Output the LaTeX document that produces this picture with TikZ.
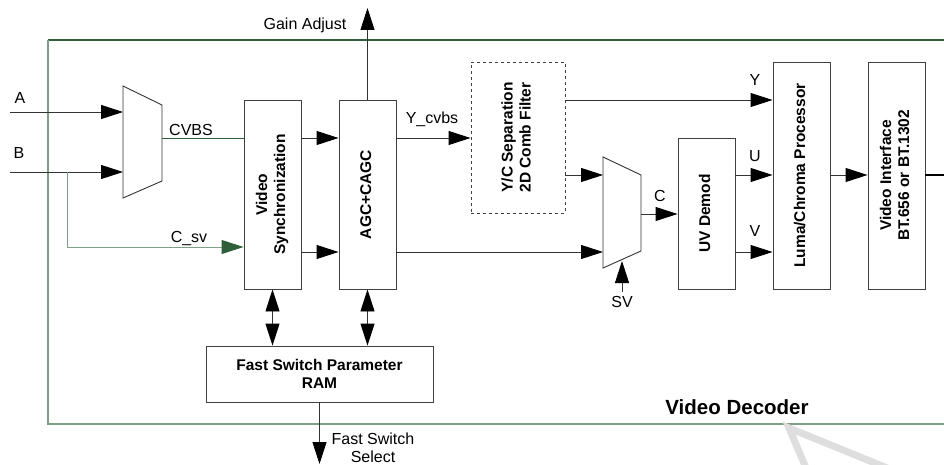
\documentclass[tikz,border=0pt]{standalone}
\usepackage{fontspec}
\setmainfont{Liberation Sans}
\usetikzlibrary{arrows.meta}

\definecolor{framegreen}{HTML}{2F5E3A}
\definecolor{framegray}{HTML}{7E9E86}

% rotated text for the upright blocks
\newcommand{\vlab}[1]{\rotatebox{90}{\begin{tabular}{@{}c@{}}#1\end{tabular}}}

\tikzset{
    blk/.style={draw=black!75, line width=0.9pt, minimum width=57pt, inner sep=0pt,
        font=\fontsize{15.5}{18}\selectfont\bfseries},
    sig/.style={font=\fontsize{16}{18}\selectfont, inner sep=0pt},
    wire/.style={draw=black!80, line width=0.9pt},
    >={Triangle[length=22pt,width=14pt,color=black]}
}

\begin{document}
\begin{tikzpicture}[x=1pt, y=-1pt]
    \useasboundingbox (0,0) rectangle (944,465);

    % Frame
    \draw[framegreen, line width=1.2pt] (48,40) -- (950,40);
    \draw[framegray, line width=1.4pt] (950,424) -- (48,424) -- (48,40);
    \node[font=\fontsize{20.5}{22}\selectfont\bfseries, inner sep=0pt] (dec) at (737,407) {Video Decoder};

    % Input mux
    \draw[wire] (123,86) -- (162,105) -- (162,181) -- (123,198) -- cycle;
    \coordinate (inA) at (10,112);
    \coordinate (inB) at (10,172);
    \coordinate (muxA) at (123,112);
    \coordinate (muxB) at (123,172);
    \coordinate (muxout) at (162,138);
    \coordinate (split) at (67,172);
    \coordinate (bend) at (67,247);

    % Blocks
    \node[blk, minimum height=189pt] (sync) at (272.5,194.5) {\vlab{Video\\Synchronization}};
    \node[blk, minimum height=189pt] (agc) at (367.5,194.5) {\vlab{AGC+CAGC}};
    \node[blk, dashed, minimum width=94pt, minimum height=151pt] (comb) at (518,137.5) {\vlab{Y/C Separation\\2D Comb Filter}};
    \node[blk, minimum height=151pt] (uvd) at (706.5,213.5) {\vlab{UV Demod}};
    \node[blk, minimum height=227pt] (luma) at (801.5,175.5) {\vlab{Luma/Chroma Processor}};
    \node[blk, minimum height=227pt] (vif) at (896.5,175.5) {\vlab{Video Interface\\BT.656 or BT.1302}};
    \node[blk, minimum width=227pt, minimum height=56pt, align=center] (ram) at (319.5,374) {Fast Switch Parameter\\RAM};

    % Chroma mux
    \draw[wire] (603,157) -- (641,175) -- (641,251) -- (603,268) -- cycle;
    \coordinate (cin1) at (603,175);
    \coordinate (cin2) at (603,252);
    \coordinate (cout) at (641,214);
    \coordinate (csel) at (622,261);
    \coordinate (svfoot) at (622,292);

    % Rows
    \coordinate (rowup) at (0,138);
    \coordinate (rowlo) at (0,252);
    \coordinate (rowy) at (0,100);
    \coordinate (rowu) at (0,175);
    \coordinate (gaintop) at (0,8);
    \coordinate (fsend) at (0,464);
    \coordinate (outend) at (944,175);

    % Inputs
    \draw[wire, ->] (inA) -- (muxA);
    \draw[wire, ->] (inB) -- (muxB);
    \draw[framegreen, line width=0.9pt] (muxout) -- (sync.west |- muxout);
    \draw[framegray, line width=0.9pt, -{Triangle[length=22pt,width=14pt,color=framegreen]}]
        (split) -- (bend) -- (sync.west |- bend);

    % Sync, AGC
    \draw[wire, ->] (sync.east |- rowup) -- (agc.west |- rowup);
    \draw[wire, ->] (sync.east |- rowlo) -- (agc.west |- rowlo);
    \draw[wire, ->] (agc.north) -- (agc.north |- gaintop);
    \draw[wire, ->] (agc.east |- rowup) -- (comb.west |- rowup);
    \draw[wire, ->] (agc.east |- rowlo) -- (cin2);

    % Comb filter
    \draw[wire, ->] (comb.east |- rowy) -- (luma.west |- rowy);
    \draw[wire, ->] (comb.east |- rowu) -- (cin1);
    \draw[wire, ->] (svfoot) -- (csel);
    \draw[wire, ->] (cout) -- (uvd.west |- cout);

    % UV demod, processor, interface
    \draw[wire, ->] (uvd.east |- rowu) -- (luma.west |- rowu);
    \draw[wire, ->] (uvd.east |- rowlo) -- (luma.west |- rowlo);
    \draw[wire, ->] (luma.east |- rowu) -- (vif.west |- rowu);
    \draw[black, line width=1.6pt] (vif.east |- rowu) -- (outend);

    % RAM
    \draw[wire, <->] (sync.south) -- (sync.south |- ram.north);
    \draw[wire, <->] (agc.south) -- (agc.south |- ram.north);
    \draw[wire, ->] (ram.south) -- (ram.south |- fsend);

    % Labels
    \node[sig] (la) at (20,98) {A};
    \node[sig] (lb) at (19,153) {B};
    \node[sig] (lcvbs) at (191,130) {CVBS};
    \node[sig] (lcsv) at (189,239) {C\_sv};
    \node[sig] (lgain) at (305,25) {Gain Adjust};
    \node[sig] (lycvbs) at (432,119) {Y\_cvbs};
    \node[sig] (ly) at (755,80) {Y};
    \node[sig] (lu) at (755,156) {U};
    \node[sig] (lv) at (755,231) {V};
    \node[sig] (lc) at (660,196) {C};
    \node[sig] (lsv) at (622,302) {SV};
    \node[sig, align=center] (lfs) at (373,448) {Fast Switch\\Select};

    % watermark
    \draw[black!13, line width=7pt] (806,468) -- (789,428) -- (892,470);
\end{tikzpicture}
\end{document}
